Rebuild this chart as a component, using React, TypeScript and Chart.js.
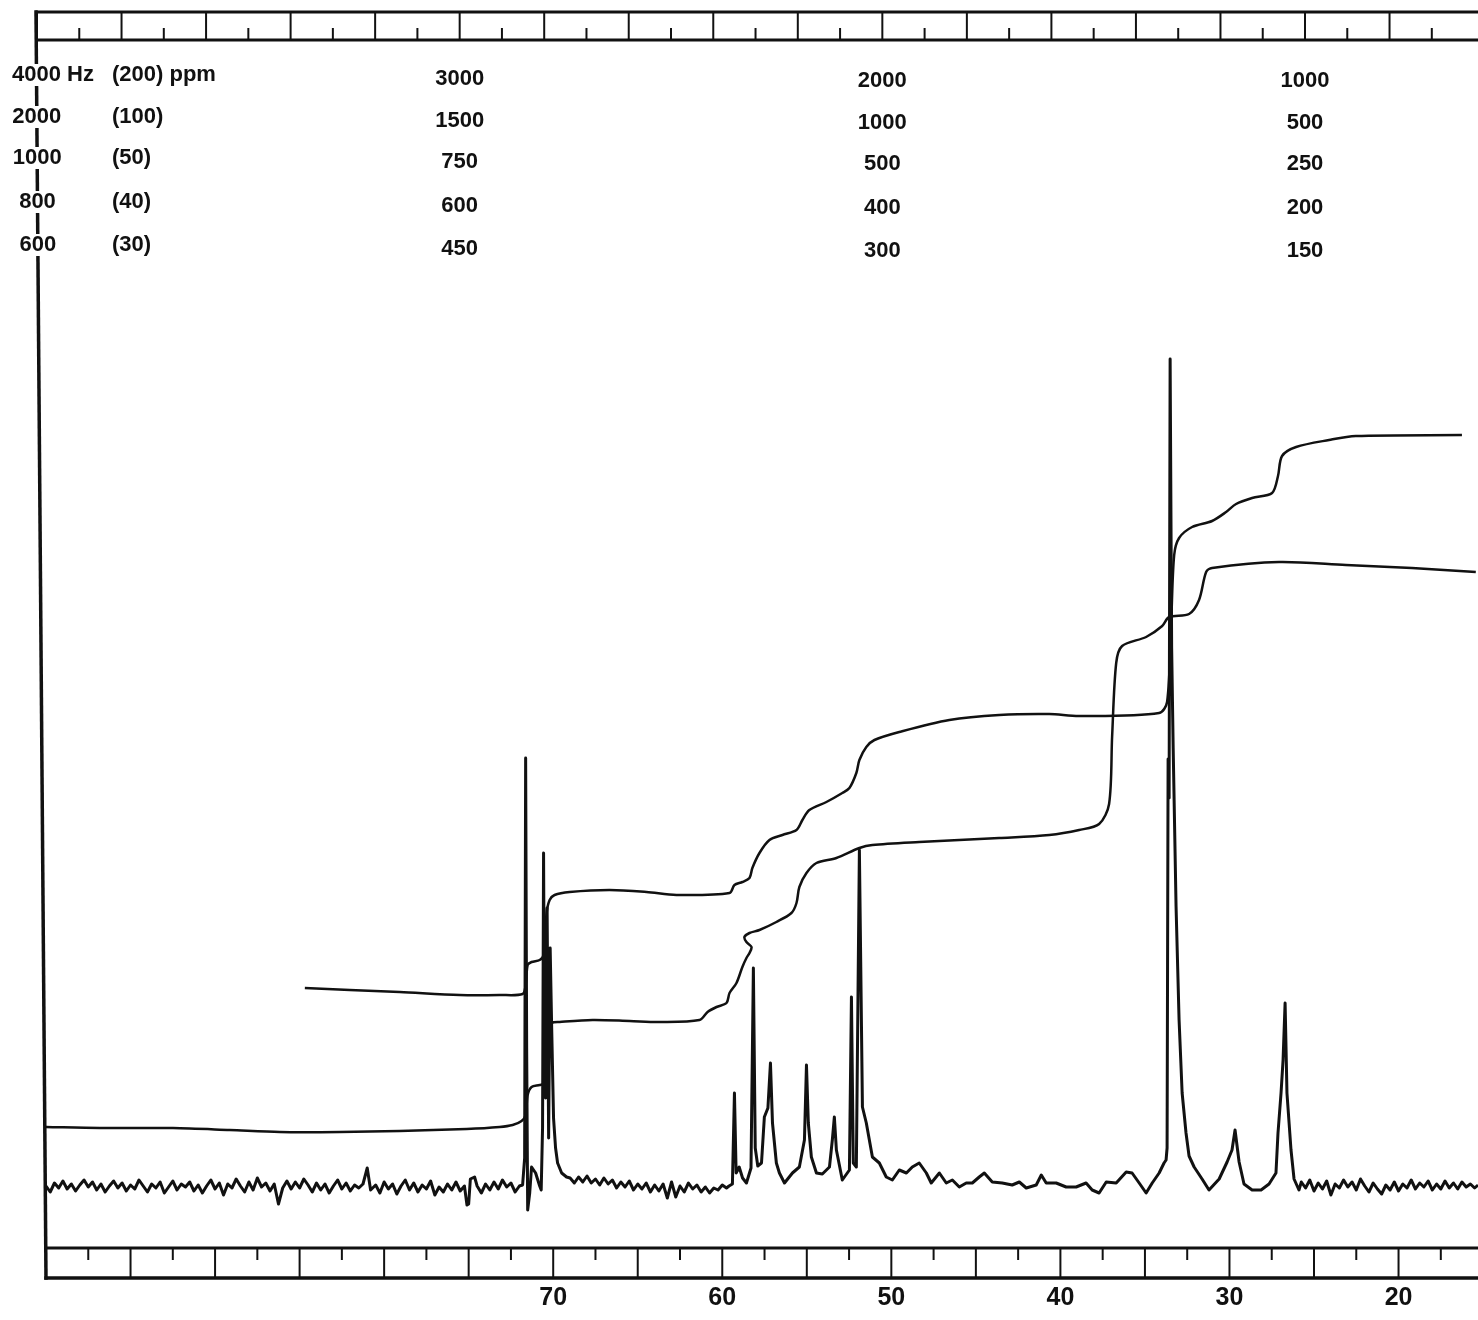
import React, { useEffect, useRef } from 'react';
import { Chart, registerables } from 'chart.js';

Chart.register(...registerables);

// ---------- data (ppm on x, recorder intensity on y) ----------
const PPM_MAX = 100;
const PPM_MIN = 15.3;
const X_LABELS = [70, 60, 50, 40, 30, 20];
const RULER_MAJOR = [100, 95, 90, 85, 80, 75, 70, 65, 60, 55, 50, 45, 40, 35, 30, 25, 20];
const RULER_MINOR = [97.5, 92.5, 87.5, 82.5, 77.5, 72.5, 67.5, 62.5, 57.5, 52.5, 47.5, 42.5, 37.5, 32.5, 27.5, 22.5, 17.5];

const HEADER_COL_PPM = [75, 50, 25];
const HEADER_ROWS = [
  ['4000 Hz', '(200) ppm', '3000', '2000', '1000'],
  ['2000', '(100)', '1500', '1000', '500'],
  ['1000', '(50)', '750', '500', '250'],
  ['800', '(40)', '600', '400', '200'],
  ['600', '(30)', '450', '300', '150'],
];

const SPECTRUM: [number, number][] = [
  [100.0, 6.2], [99.75, 5.6], [99.5, 6.5], [99.25, 6.0], [99.0, 6.7], [98.75, 5.9], [98.5, 6.4], [98.25, 5.7],
  [98.0, 6.3], [97.75, 6.8], [97.5, 6.1], [97.25, 6.6], [97.0, 5.8], [96.75, 6.4], [96.5, 5.6], [96.25, 6.2],
  [96.0, 6.7], [95.75, 6.0], [95.5, 6.5], [95.25, 5.7], [95.0, 6.3], [94.75, 5.9], [94.5, 6.8], [94.25, 6.2],
  [94.0, 5.6], [93.75, 6.4], [93.5, 6.0], [93.25, 6.6], [93.0, 5.5], [92.75, 6.1], [92.5, 6.7], [92.25, 5.8],
  [92.0, 6.4], [91.75, 6.1], [91.5, 6.6], [91.25, 5.7], [91.0, 6.3], [90.75, 5.5], [90.5, 6.2], [90.25, 6.8],
  [90.0, 5.9], [89.75, 6.5], [89.5, 5.3], [89.25, 6.4], [89.0, 6.0], [88.75, 6.9], [88.5, 6.2], [88.25, 5.6],
  [88.0, 6.6], [87.75, 5.8], [87.5, 7.0], [87.25, 6.1], [87.0, 6.5], [86.75, 5.7], [86.5, 6.4], [86.25, 4.4],
  [86.0, 6.0], [85.75, 6.7], [85.5, 5.9], [85.25, 6.6], [85.0, 6.0], [84.75, 6.9], [84.5, 6.3], [84.25, 5.6],
  [84.0, 6.5], [83.75, 5.8], [83.5, 6.4], [83.25, 5.5], [83.0, 6.2], [82.75, 6.8], [82.5, 5.9], [82.25, 6.5],
  [82.0, 5.7], [81.75, 6.3], [81.5, 6.0], [81.25, 6.4], [81.0, 8.0], [80.8, 5.8], [80.5, 6.3], [80.25, 5.5],
  [80.0, 6.6], [79.75, 5.9], [79.5, 6.4], [79.25, 5.4], [79.0, 6.2], [78.75, 6.8], [78.5, 5.8], [78.25, 6.5],
  [78.0, 5.6], [77.75, 6.3], [77.5, 5.9], [77.25, 6.7], [77.0, 5.3], [76.75, 6.1], [76.5, 5.6], [76.25, 6.4],
  [76.0, 5.8], [75.75, 6.6], [75.5, 5.7], [75.25, 6.2], [75.1, 4.3], [75.0, 4.4], [74.9, 6.9], [74.65, 7.1],
  [74.5, 6.2], [74.25, 5.5], [74.0, 6.4], [73.75, 5.8], [73.5, 6.6], [73.25, 5.9], [73.0, 6.8], [72.75, 6.1],
  [72.5, 6.5], [72.25, 5.6], [72.0, 6.2], [71.81, 6.3],
  [71.69, 9.0], [71.63, 49.0], [71.57, 20.0], [71.51, 3.8], [71.39, 5.5], [71.28, 8.1], [71.04, 7.5],
  [70.8, 6.2], [70.71, 5.8], [70.63, 12.0], [70.57, 39.5], [70.51, 18.0], [70.45, 15.0], [70.36, 34.0],
  [70.27, 11.0], [70.18, 30.0], [70.09, 22.0], [69.98, 13.0], [69.86, 10.0], [69.74, 8.5], [69.5, 7.5],
  [69.21, 7.1], [69.0, 7.0], [68.75, 6.5], [68.5, 7.1], [68.25, 6.6], [68.0, 7.2], [67.75, 6.5], [67.5, 6.9],
  [67.25, 6.3], [67.0, 7.0], [66.75, 6.4], [66.5, 6.8], [66.25, 6.0], [66.0, 6.6], [65.75, 6.1], [65.5, 6.7],
  [65.25, 5.8], [65.0, 6.4], [64.75, 5.9], [64.5, 6.5], [64.25, 5.6], [64.0, 6.3], [63.75, 5.7], [63.5, 6.4],
  [63.25, 5.0], [63.0, 6.6], [62.75, 5.1], [62.5, 6.2], [62.25, 5.6], [62.0, 6.5], [61.75, 5.9], [61.5, 6.3],
  [61.25, 5.6], [61.0, 6.1], [60.75, 5.5], [60.5, 6.0], [60.25, 5.8], [60.0, 6.3], [59.75, 6.0], [59.6, 6.2],
  [59.4, 6.4], [59.28, 15.5], [59.18, 7.5], [59.0, 8.1], [58.8, 7.0], [58.57, 6.5], [58.3, 8.0], [58.16, 28.0],
  [58.05, 10.0], [57.9, 8.2], [57.68, 8.5], [57.51, 13.1], [57.3, 14.0], [57.15, 18.5], [57.03, 12.5],
  [56.8, 8.5], [56.62, 7.5], [56.32, 6.5], [55.85, 7.5], [55.44, 8.1], [55.14, 10.8], [55.02, 18.3],
  [54.91, 12.5], [54.73, 9.1], [54.43, 7.5], [54.08, 7.4], [53.66, 8.1], [53.49, 10.8], [53.37, 13.1],
  [53.25, 9.8], [52.9, 6.8], [52.48, 7.8], [52.36, 25.1], [52.25, 8.5], [52.07, 8.1], [51.89, 39.8],
  [51.71, 14.1], [51.48, 12.5], [51.12, 9.1], [50.71, 8.5], [50.3, 7.1], [49.94, 6.8], [49.53, 7.8],
  [49.11, 7.5], [48.76, 8.1], [48.35, 8.5], [47.93, 7.5], [47.64, 6.5], [47.16, 7.5], [46.75, 6.5],
  [46.39, 6.8], [45.98, 6.1], [45.57, 6.5], [45.21, 6.5], [44.8, 7.1], [44.5, 7.5], [44.03, 6.6],
  [43.44, 6.5], [42.85, 6.3], [42.43, 6.6], [42.02, 6.0], [41.43, 6.3], [41.13, 7.3], [40.84, 6.5],
  [40.25, 6.5], [39.66, 6.1], [39.07, 6.1], [38.48, 6.5], [38.12, 5.8], [37.71, 5.5], [37.29, 6.6],
  [36.7, 6.5], [36.11, 7.6], [35.76, 7.5], [35.34, 6.5], [34.93, 5.5], [34.57, 6.5], [34.16, 7.5],
  [33.87, 8.5], [33.75, 8.8], [33.69, 10.0], [33.63, 48.9], [33.57, 45.0], [33.51, 88.9], [33.42, 60.0],
  [33.33, 50.0], [33.16, 34.2], [32.98, 22.8], [32.8, 15.5], [32.57, 11.5], [32.39, 9.2], [32.09, 8.1],
  [31.62, 6.9], [31.21, 5.8], [30.61, 6.9], [30.14, 8.6], [29.85, 9.8], [29.67, 11.8], [29.43, 8.6],
  [29.14, 6.4], [28.66, 5.8], [28.13, 5.8], [27.66, 6.4], [27.25, 7.5], [27.13, 11.5], [26.95, 15.5],
  [26.83, 18.8], [26.71, 24.5], [26.6, 15.5], [26.36, 9.8], [26.18, 6.9], [25.89, 5.8], [25.75, 6.6],
  [25.5, 6.0], [25.25, 6.8], [25.0, 5.7], [24.75, 6.5], [24.5, 5.9], [24.25, 6.7], [24.0, 5.3], [23.75, 6.4],
  [23.5, 6.0], [23.25, 6.8], [23.0, 6.1], [22.75, 6.6], [22.5, 5.8], [22.25, 6.9], [22.0, 6.2], [21.75, 5.6],
  [21.5, 6.5], [21.25, 5.9], [21.0, 5.4], [20.75, 6.3], [20.5, 5.8], [20.25, 6.6], [20.0, 5.7], [19.75, 6.4],
  [19.5, 6.0], [19.25, 6.8], [19.0, 5.9], [18.75, 6.5], [18.5, 6.1], [18.25, 6.7], [18.0, 5.8], [17.75, 6.4],
  [17.5, 5.9], [17.25, 6.7], [17.0, 6.0], [16.75, 6.5], [16.5, 5.9], [16.25, 6.6], [16.0, 6.1], [15.75, 6.4],
  [15.5, 6.0], [15.3, 6.3],
];

const INTEGRAL_A: [number, number][] = [
  [100, 12.1], [96.81, 12.0], [92.49, 12.0], [89.13, 11.8], [86.17, 11.6], [82.62, 11.6], [79.08, 11.7],
  [75.12, 11.9], [73.17, 12.1], [72.4, 12.3], [71.87, 12.7], [71.63, 13.3], [71.51, 15.3], [71.28, 16.1],
  [70.8, 16.3], [70.51, 16.5], [70.39, 18.8], [70.27, 21.8], [70.09, 22.5], [69.62, 22.6], [67.67, 22.8],
  [65.48, 22.7], [63.71, 22.6], [61.35, 22.8], [60.87, 23.6], [60.34, 24.1], [59.75, 24.5], [59.57, 25.5],
  [59.16, 26.5], [58.81, 28.1], [58.57, 29.0], [58.39, 29.5], [58.27, 30.1], [58.57, 30.6], [58.69, 31.1],
  [58.39, 31.5], [57.8, 31.8], [56.8, 32.6], [55.91, 33.5], [55.61, 34.5], [55.44, 36.1], [55.02, 37.5],
  [54.43, 38.5], [53.25, 39.0], [51.89, 40.0], [51.12, 40.3], [48.35, 40.6], [43.62, 41.0], [40.66, 41.3],
  [38.89, 41.8], [37.71, 42.4], [37.12, 44.4], [36.94, 51.2], [36.7, 58.5], [36.35, 60.2], [34.93, 61.1],
  [33.98, 62.2], [33.57, 63.1], [32.39, 63.4], [31.8, 64.8], [31.38, 67.6], [31.03, 68.0], [27.07, 68.6],
  [23.11, 68.3], [19.21, 68.0], [15.43, 67.6],
];

const INTEGRAL_B: [number, number][] = [
  [84.69, 26.0], [82.03, 25.8], [79.08, 25.6], [75.53, 25.3], [73.17, 25.3], [71.81, 25.4], [71.63, 26.3],
  [71.51, 28.3], [71.28, 28.6], [70.8, 28.8], [70.57, 29.3], [70.39, 33.5], [70.21, 34.8], [69.92, 35.3],
  [69.03, 35.6], [66.67, 35.8], [64.48, 35.6], [62.71, 35.3], [59.57, 35.5], [59.28, 36.3], [58.81, 36.6],
  [58.39, 37.0], [58.22, 38.0], [57.8, 39.5], [57.21, 40.8], [56.44, 41.3], [55.61, 41.8], [55.26, 42.8],
  [54.85, 43.8], [53.84, 44.6], [52.9, 45.5], [52.48, 46.0], [52.07, 47.5], [51.89, 48.8], [51.48, 50.1],
  [51.0, 50.8], [49.53, 51.6], [46.57, 52.8], [43.62, 53.3], [40.66, 53.4], [38.89, 53.2], [34.16, 53.5],
  [33.69, 54.6], [33.45, 62.5], [33.27, 69.3], [32.98, 71.0], [32.21, 72.1], [31.03, 72.7], [30.2, 73.6],
  [29.61, 74.4], [28.66, 75.0], [27.48, 75.5], [27.13, 77.2], [26.89, 79.2], [26.06, 80.1], [24.11, 80.8],
  [22.52, 81.2], [16.25, 81.3],
];

// ---------- presentation ----------
const INK = '#111111';
const W = 1478;
const H = 1320;
const TOP_SKEW = -9; // the scanned chart is slightly rotated: top of frame sits left of the bottom
const HEADER_ROW_Y = [75, 117, 158, 202, 245];
const HEADER_COL_DY = [0, 0, 4, 6, 6];

const framePlugin = {
  id: 'nmrFrame',
  afterDraw(chart: any) {
    const ctx: CanvasRenderingContext2D = chart.ctx;
    const xs = chart.scales.x;
    const area = chart.chartArea;
    const left = xs.getPixelForValue(PPM_MAX);
    const right = W;
    const line = (x1: number, y1: number, x2: number, y2: number, lw: number) => {
      ctx.lineWidth = lw;
      ctx.beginPath();
      ctx.moveTo(x1, y1);
      ctx.lineTo(x2, y2);
      ctx.stroke();
    };
    ctx.save();
    ctx.strokeStyle = INK;
    ctx.lineCap = 'square';

    // bottom ruler
    const bTop = area.bottom;
    const bBot = bTop + 30;
    line(left, bTop, right, bTop, 3);
    line(left, bBot, right, bBot, 3.5);
    RULER_MAJOR.forEach((p) => {
      const x = xs.getPixelForValue(p);
      line(x, bTop, x, bBot, 2);
    });
    RULER_MINOR.forEach((p) => {
      const x = xs.getPixelForValue(p);
      line(x, bTop, x, bTop + 11, 2);
    });

    // top ruler
    const tTop = 12;
    const tBot = 40;
    line(left + TOP_SKEW, tTop, right, tTop, 3);
    line(left + TOP_SKEW, tBot, right, tBot, 3);
    RULER_MAJOR.forEach((p) => {
      const x = xs.getPixelForValue(p) + TOP_SKEW;
      line(x, tTop, x, tBot, 2);
    });
    RULER_MINOR.forEach((p) => {
      const x = xs.getPixelForValue(p) + TOP_SKEW;
      line(x, tBot - 11, x, tBot, 2);
    });

    // left frame line
    const lineTopX = left + TOP_SKEW - 1;
    line(lineTopX, tTop, left, bBot, 3.5);

    // header (sweep width / offset table)
    ctx.font = 'bold 22px "Liberation Sans", Arial, sans-serif';
    ctx.textBaseline = 'middle';
    const text = (s: string, x: number, y: number, align: 'left' | 'center') => {
      const w = ctx.measureText(s).width;
      const x0 = align === 'center' ? x - w / 2 : x;
      ctx.fillStyle = '#ffffff';
      ctx.fillRect(x0 - 2, y - 11, w + 4, 22);
      ctx.fillStyle = INK;
      ctx.textAlign = 'left';
      ctx.fillText(s, x0, y);
    };
    HEADER_ROWS.forEach((row, r) => {
      const y = HEADER_ROW_Y[r];
      const num = row[0].split(' ')[0];
      const wNum = ctx.measureText(num).width;
      const lx = lineTopX + (left - lineTopX) * ((y - tTop) / (bBot - tTop));
      text(row[0], lx - wNum / 2, y + HEADER_COL_DY[0], 'left');
      text(row[1], left + 66, y + HEADER_COL_DY[1], 'left');
      for (let c = 2; c < 5; c++) {
        const x = xs.getPixelForValue(HEADER_COL_PPM[c - 2]) + TOP_SKEW;
        text(row[c], x, y + HEADER_COL_DY[c], 'center');
      }
    });
    ctx.restore();
  },
};

const toXY = (arr: [number, number][]) => arr.map(([x, y]) => ({ x, y }));

export default function App() {
  const ref = useRef<HTMLCanvasElement | null>(null);
  useEffect(() => {
    document.body.style.margin = '0';
    const canvas = ref.current;
    if (!canvas) return;
    const chart = new Chart(canvas, {
      type: 'line',
      data: {
        datasets: [
          {
            label: 'Spectrum',
            data: toXY(SPECTRUM),
            borderColor: INK,
            borderWidth: 3,
            pointRadius: 0,
            tension: 0,
            fill: false,
            borderJoinStyle: 'round',
          },
          {
            label: 'Integral 1',
            data: toXY(INTEGRAL_A),
            borderColor: INK,
            borderWidth: 2.5,
            pointRadius: 0,
            tension: 0.3,
            fill: false,
          },
          {
            label: 'Integral 2',
            data: toXY(INTEGRAL_B),
            borderColor: INK,
            borderWidth: 2.5,
            pointRadius: 0,
            tension: 0.3,
            fill: false,
          },
        ],
      },
      options: {
        animation: false,
        responsive: false,
        devicePixelRatio: 1,
        layout: { padding: { left: 46, right: 0, top: 48, bottom: 9 } },
        plugins: {
          legend: { display: false },
          tooltip: { enabled: false },
          title: { display: false },
        },
        scales: {
          x: {
            type: 'linear',
            reverse: true,
            min: PPM_MIN,
            max: PPM_MAX,
            grid: { display: false, drawTicks: false },
            border: { display: false },
            afterBuildTicks: (axis: any) => {
              axis.ticks = X_LABELS.map((v) => ({ value: v }));
            },
            afterFit: (axis: any) => {
              axis.height = 63;
            },
            ticks: {
              autoSkip: false,
              maxRotation: 0,
              padding: 35,
              color: INK,
              font: { family: '"Liberation Sans", Arial, sans-serif', size: 25, weight: 'bold' },
              callback: (v: any) => String(v),
            },
          },
          y: {
            display: false,
            min: 0,
            max: 120,
          },
        },
      },
      plugins: [framePlugin],
    } as any);
    return () => chart.destroy();
  }, []);

  return (
    <div style={{ position: 'absolute', left: 0, top: 0, width: W, height: H, background: '#ffffff', overflow: 'hidden' }}>
      <canvas ref={ref} width={W} height={H} style={{ display: 'block' }} />
    </div>
  );
}
